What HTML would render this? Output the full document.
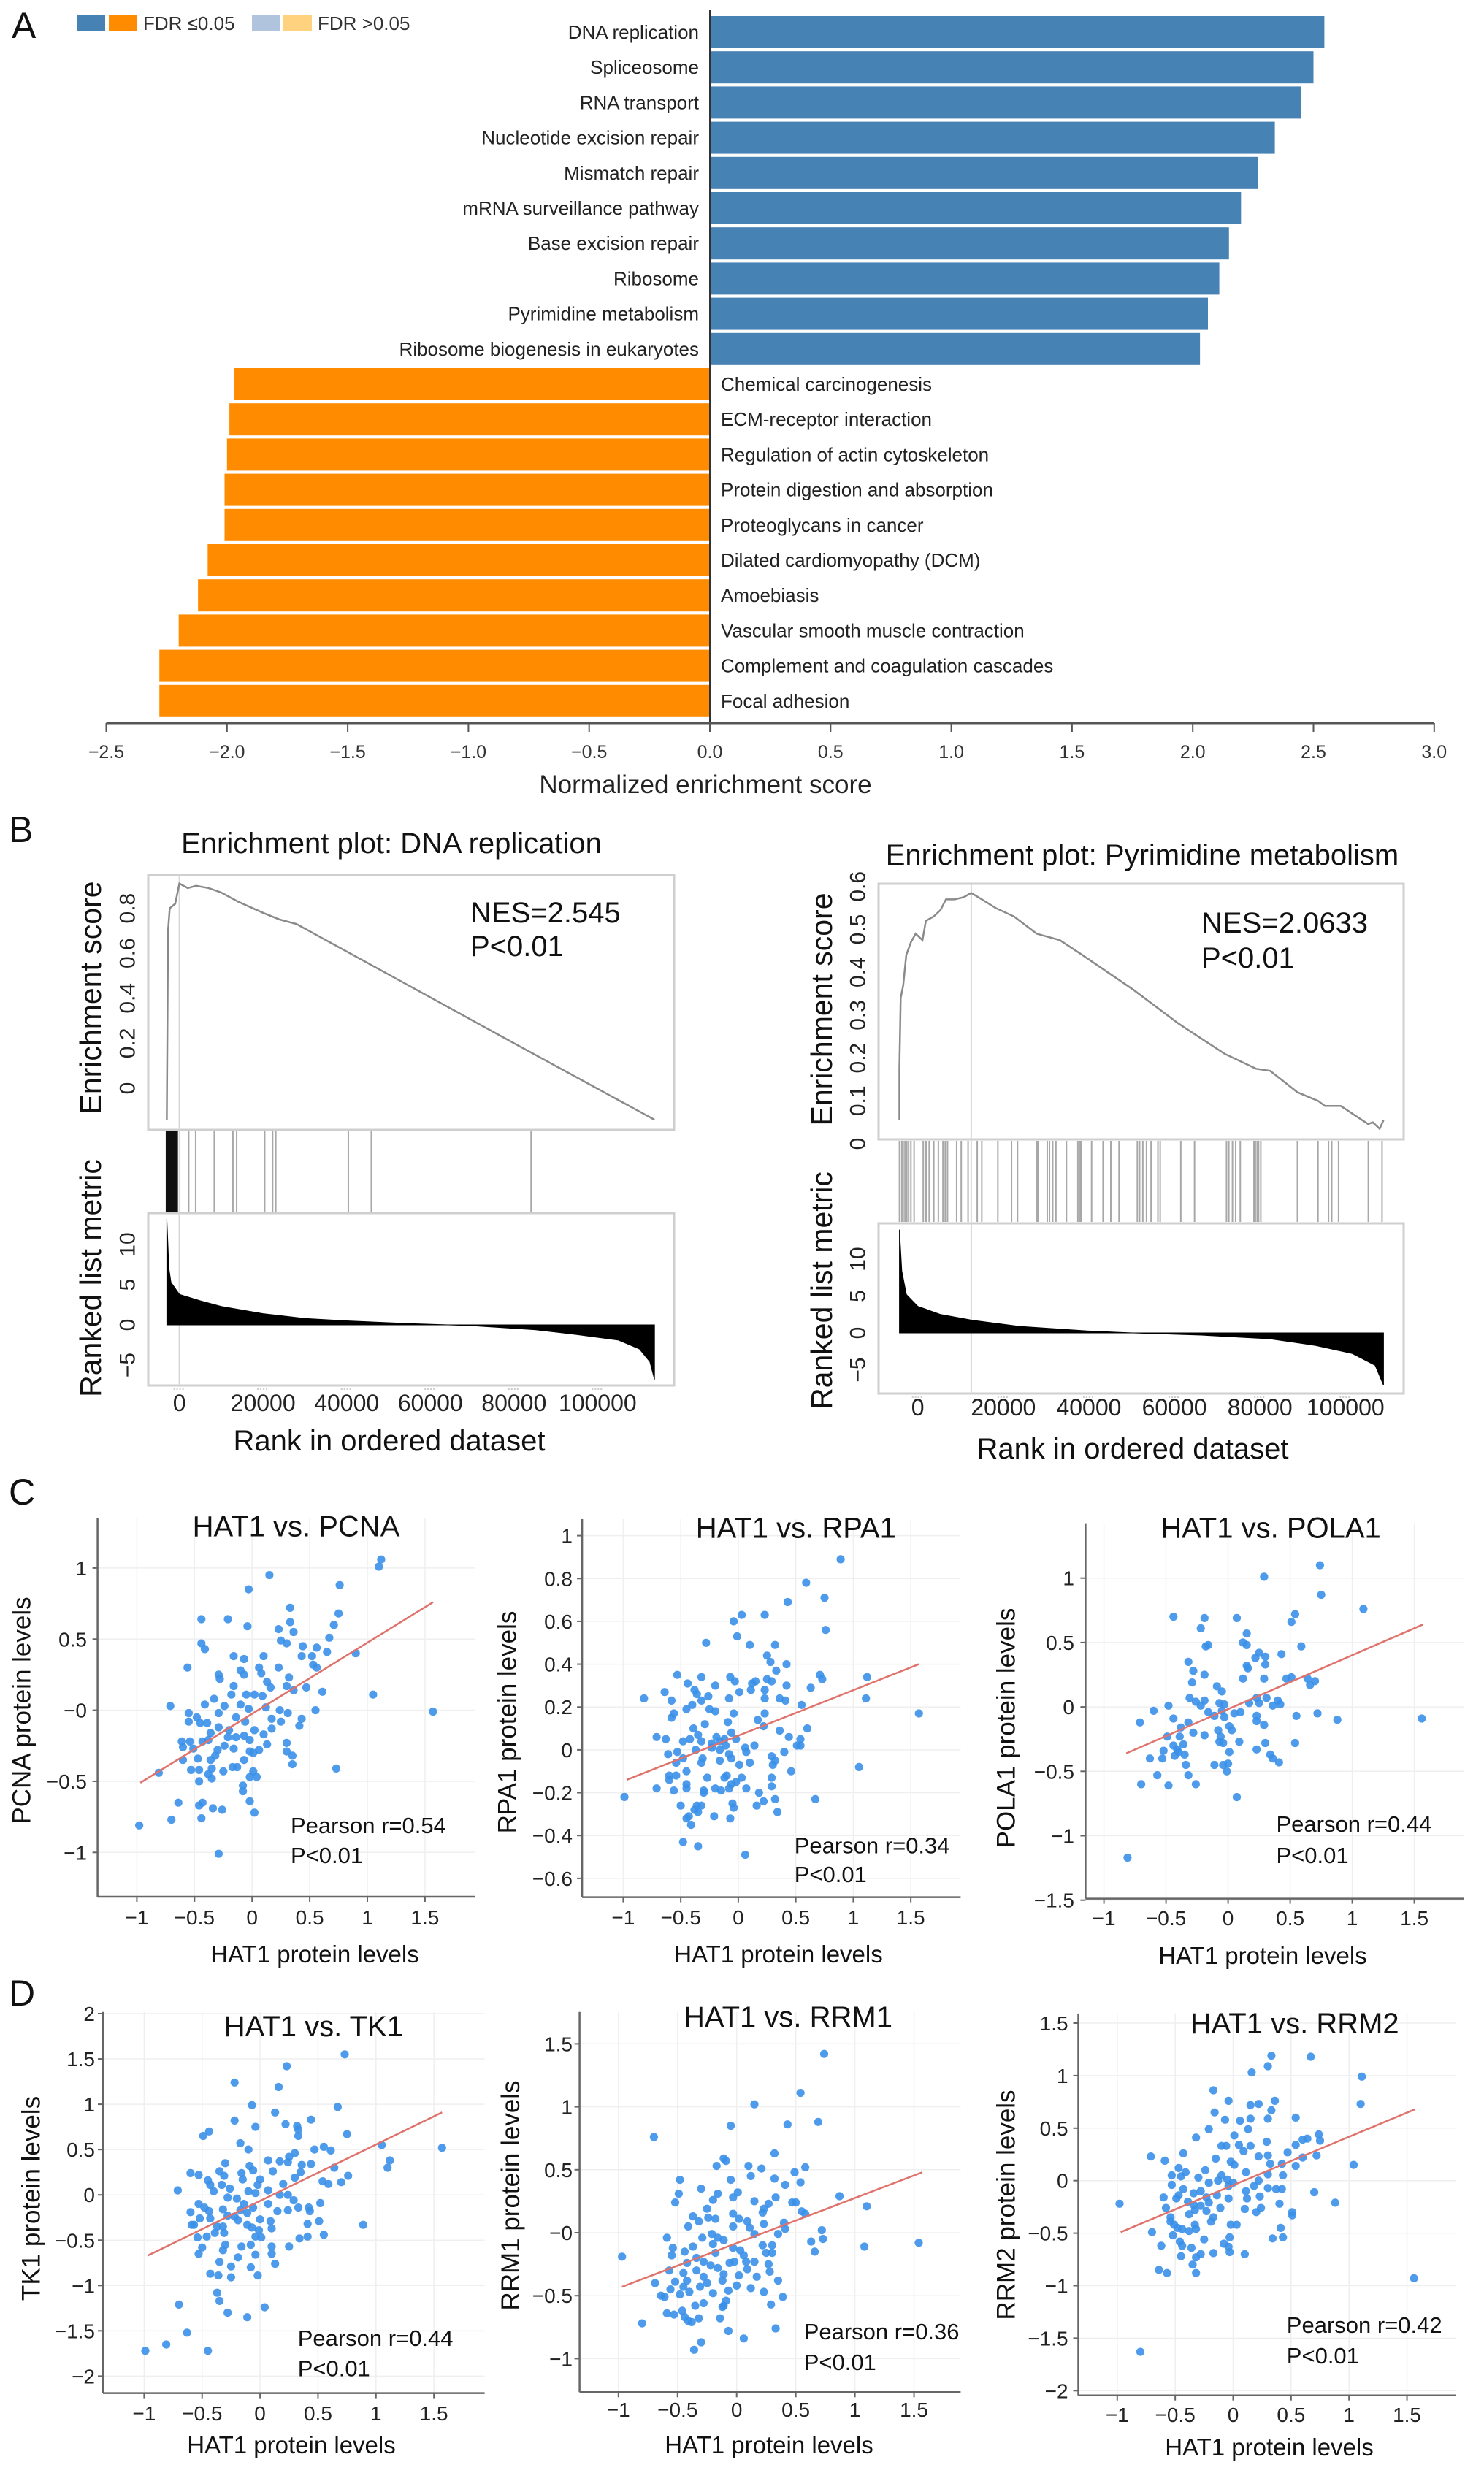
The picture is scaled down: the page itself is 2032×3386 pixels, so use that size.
<!DOCTYPE html>
<html><head><meta charset="utf-8"><title>GSEA and HAT1 correlation figure</title>
<style>
html,body{margin:0;padding:0;background:#fff;}
svg{display:block;font-family:"Liberation Sans",Arial,sans-serif;}
</style></head>
<body>
<svg id="fig" xmlns="http://www.w3.org/2000/svg" width="2032" height="3386" viewBox="0 0 2032 3386"></svg>
<script>
// ---------- Panel A data ----------
const barCategories=["DNA replication","Spliceosome","RNA transport","Nucleotide excision repair","Mismatch repair","mRNA surveillance pathway","Base excision repair","Ribosome","Pyrimidine metabolism","Ribosome biogenesis in eukaryotes","Chemical carcinogenesis","ECM-receptor interaction","Regulation of actin cytoskeleton","Protein digestion and absorption","Proteoglycans in cancer","Dilated cardiomyopathy (DCM)","Amoebiasis","Vascular smooth muscle contraction","Complement and coagulation cascades","Focal adhesion"];
const barValues=[2.545,2.50,2.45,2.34,2.27,2.20,2.15,2.11,2.063,2.03,-1.97,-1.99,-2.00,-2.01,-2.01,-2.08,-2.12,-2.20,-2.28,-2.28];
const nesTicks=[-2.5,-2.0,-1.5,-1.0,-0.5,0.0,0.5,1.0,1.5,2.0,2.5,3.0];
const nesTickLabels=["\u22122.5","\u22122.0","\u22121.5","\u22121.0","\u22120.5","0.0","0.5","1.0","1.5","2.0","2.5","3.0"];

// ---------- Panel B data ----------
const rankTicks=[0,20000,40000,60000,80000,100000];
const esRankL=[-3000,-2700,-2300,-1000,0,2000,4000,7000,10000,14000,20000,24000,28000,50000,80000,113600];
const esValL=[-0.14,0.70,0.80,0.82,0.91,0.89,0.90,0.89,0.87,0.83,0.78,0.75,0.73,0.506,0.20,-0.14];
const hitRanksL=[-3000,-2800,-2600,-2400,-2200,-2000,-1800,-1600,-1400,-1200,-1000,-800,-600,2230,3900,8350,12800,13700,20400,22300,23050,40400,45900,84100];
const metricRankL=[-3000,-2500,-2000,0,5000,10000,20000,30000,40000,55000,70000,85000,95000,105000,110000,112500,113600];
const metricValL=[13.2,7,5.3,3.8,3.0,2.3,1.4,0.8,0.5,0.15,-0.1,-0.6,-1.2,-1.9,-3.0,-4.6,-6.8];
const esTicksL=[0,0.2,0.4,0.6,0.8];
const esRankR=[-4300,-4300,-4000,-3400,-2700,-1600,-500,1100,1900,3700,5300,6600,8600,10700,12500,15000,18200,22500,27800,33200,38500,50300,61000,71700,79100,82400,88800,93600,95200,98900,105300,106400,108000,108900];
const esValR=[0.055,0.175,0.34,0.37,0.44,0.47,0.49,0.475,0.52,0.53,0.545,0.57,0.57,0.575,0.585,0.57,0.55,0.53,0.49,0.475,0.44,0.36,0.28,0.21,0.175,0.17,0.12,0.10,0.088,0.088,0.046,0.05,0.035,0.055];
const hitRanksR=[-4280,-3740,-3420,-2990,-2570,-2140,-1600,-860,1280,1930,2670,3740,4810,5880,6420,6950,9090,10160,11760,13900,14970,18720,21920,23320,27810,28130,30270,30800,31550,32300,34760,37430,37970,38290,40640,43320,45130,47060,51340,51870,52620,53480,54550,56150,56680,61500,64710,72190,72730,73580,74330,75400,78610,78930,79360,79680,80210,88770,93580,96040,96790,98390,105350,108560];
const metricRankR=[-4280,-3740,-2670,0,5350,12830,23530,39570,50270,66310,82350,93050,101600,106950,108900];
const metricValR=[14.0,8.4,5.2,3.6,2.5,1.7,0.9,0.27,0,-0.3,-0.8,-1.7,-2.8,-4.4,-7.1];
const esTicksR=[0,0.1,0.2,0.3,0.4,0.5,0.6];
const metricTicks=[-5,0,5,10];

// ---------- Panel C / D data (HAT1 x, target y) ----------
const hatTicks=[-1,-0.5,0,0.5,1,1.5];
const hatTickLabels=["\u22121","\u22120.5","0","0.5","1","1.5"];
const pcnaPoints=[[1.12,1.06],[1.10,1.01],[0.15,0.95],[0.76,0.88],[-0.03,0.85],[0.33,0.72],[0.75,0.68],[-0.44,0.64],[-0.21,0.64],[0.33,0.62],[-0.04,0.59],[0.71,0.60],[0.23,0.57],[0.36,0.55],[0.67,0.51],[0.25,0.49],[0.30,0.47],[-0.44,0.47],[-0.41,0.43],[0.44,0.45],[0.56,0.44],[0.65,0.41],[0.90,0.40],[-0.16,0.38],[0.10,0.38],[0.43,0.38],[0.52,0.38],[-0.07,0.36],[0.53,0.32],[-0.56,0.30],[0.06,0.30],[0.23,0.30],[-0.10,0.28],[0.56,0.30],[0.08,0.26],[-0.29,0.25],[-0.07,0.25],[0.32,0.23],[-0.28,0.22],[0.13,0.20],[-0.16,0.17],[0.16,0.16],[0.30,0.17],[0.47,0.16],[0.36,0.14],[0.61,0.13],[1.05,0.11],[-0.05,0.11],[0.02,0.11],[-0.18,0.11],[0.09,0.10],[-0.33,0.08],[-0.41,0.04],[-0.71,0.03],[-0.24,0.03],[-0.10,0.04],[0.12,0.02],[-0.03,0.01],[0.24,0.0],[0.55,0.0],[1.57,-0.01],[-0.55,-0.02],[-0.29,-0.02],[0.31,-0.02],[-0.48,-0.05],[-0.14,-0.05],[0.17,-0.06],[0.43,-0.06],[-0.55,-0.08],[-0.45,-0.09],[-0.39,-0.09],[-0.06,-0.08],[0.25,-0.08],[0.41,-0.11],[-0.29,-0.12],[-0.20,-0.14],[0.17,-0.13],[0.02,-0.14],[-0.36,-0.16],[-0.07,-0.18],[0.10,-0.17],[-0.21,-0.19],[-0.14,-0.19],[-0.61,-0.22],[-0.54,-0.22],[-0.43,-0.22],[-0.38,-0.21],[-0.02,-0.21],[0.30,-0.23],[0.13,-0.24],[-0.60,-0.26],[-0.51,-0.27],[-0.24,-0.25],[-0.16,-0.27],[0.06,-0.28],[-0.30,-0.28],[0.30,-0.29],[-0.02,-0.29],[-0.47,-0.34],[0.01,-0.30],[-0.32,-0.32],[0.35,-0.32],[-0.60,-0.35],[-0.36,-0.35],[-0.07,-0.35],[0.35,-0.38],[-0.53,-0.42],[-0.46,-0.42],[-0.35,-0.41],[-0.25,-0.43],[-0.17,-0.40],[-0.13,-0.40],[0.73,-0.41],[-0.81,-0.44],[0.01,-0.43],[-0.38,-0.45],[-0.02,-0.47],[0.04,-0.47],[-0.46,-0.50],[-0.35,-0.48],[-0.08,-0.53],[-0.08,-0.57],[-0.64,-0.65],[-0.43,-0.65],[-0.02,-0.64],[-0.46,-0.67],[-0.34,-0.69],[-0.26,-0.70],[0.02,-0.72],[-0.70,-0.77],[-0.44,-0.76],[-0.98,-0.81],[-0.29,-1.01]];
const rpa1Points=[[0.89,0.89],[0.59,0.78],[0.75,0.71],[0.43,0.69],[0.76,0.56],[0.23,0.63],[0.03,0.63],[-0.04,0.60],[-0.01,0.53],[-0.28,0.50],[0.10,0.49],[0.32,0.49],[0.25,0.44],[0.28,0.41],[0.42,0.40],[0.33,0.37],[-0.53,0.35],[-0.32,0.34],[-0.07,0.34],[-0.03,0.32],[0.15,0.32],[0.25,0.33],[1.12,0.34],[0.71,0.35],[0.73,0.33],[0.29,0.32],[-0.44,0.31],[-0.20,0.30],[0.42,0.30],[0.12,0.31],[0.63,0.29],[0.23,0.28],[-0.38,0.28],[-0.64,0.27],[0.01,0.27],[0.11,0.28],[-0.36,0.26],[-0.26,0.25],[-0.82,0.24],[-0.08,0.24],[1.11,0.24],[0.23,0.24],[0.36,0.24],[0.41,0.23],[-0.58,0.23],[-0.32,0.23],[0.55,0.21],[-0.40,0.21],[-0.45,0.19],[-0.25,0.19],[-0.20,0.18],[-0.56,0.17],[1.57,0.17],[-0.04,0.17],[0.23,0.17],[-0.58,0.15],[0.17,0.14],[-0.09,0.13],[-0.29,0.12],[0.22,0.11],[-0.39,0.10],[0.60,0.10],[0.36,0.09],[-0.06,0.08],[-0.35,0.07],[-0.71,0.06],[-0.42,0.05],[-0.19,0.06],[0.44,0.06],[-0.63,0.05],[0.54,0.05],[-0.48,0.04],[-0.32,0.04],[-0.12,0.05],[-0.02,0.05],[-0.23,0.03],[-0.16,0.04],[0.54,0.02],[-0.11,0.02],[0.14,0.02],[0.06,0.01],[0.51,0.02],[-0.23,0.01],[-0.16,0.0],[-0.53,-0.01],[-0.37,0.0],[0.07,-0.01],[-0.61,-0.02],[0.40,-0.01],[-0.08,-0.02],[-0.31,-0.04],[-0.48,-0.04],[-0.16,-0.05],[-0.06,-0.04],[0.29,-0.03],[0.32,-0.05],[-0.54,-0.06],[-0.32,-0.06],[0.01,-0.07],[0.10,-0.06],[0.30,-0.07],[1.05,-0.08],[-0.45,-0.10],[0.46,-0.10],[-0.10,-0.12],[-0.60,-0.12],[-0.54,-0.12],[0.29,-0.13],[0.03,-0.13],[-0.27,-0.13],[-0.60,-0.14],[-0.12,-0.13],[-0.45,-0.16],[-0.02,-0.15],[-0.06,-0.16],[0.29,-0.17],[-0.45,-0.18],[-0.71,-0.18],[-0.20,-0.18],[-0.15,-0.19],[0.07,-0.18],[-0.30,-0.19],[-0.08,-0.18],[-0.56,-0.19],[-0.30,-0.20],[0.18,-0.20],[0.22,-0.24],[0.32,-0.23],[0.67,-0.23],[-0.99,-0.22],[0.16,-0.26],[-0.50,-0.26],[-0.05,-0.25],[-0.04,-0.27],[-0.36,-0.26],[-0.32,-0.26],[-0.38,-0.28],[-0.35,-0.29],[0.34,-0.29],[-0.43,-0.31],[-0.21,-0.31],[-0.07,-0.32],[-0.45,-0.32],[-0.41,-0.35],[-0.48,-0.43],[-0.35,-0.45],[0.06,-0.49]];
const pola1Points=[[0.74,1.10],[0.29,1.01],[0.75,0.87],[1.09,0.76],[-0.44,0.70],[-0.19,0.69],[0.07,0.69],[0.54,0.72],[0.51,0.66],[-0.22,0.61],[0.15,0.57],[0.59,0.47],[0.12,0.50],[0.15,0.48],[-0.16,0.48],[-0.18,0.47],[0.25,0.42],[0.43,0.41],[0.30,0.39],[0.22,0.38],[-0.32,0.35],[0.15,0.32],[0.30,0.33],[0.16,0.30],[-0.28,0.28],[-0.19,0.25],[0.51,0.23],[0.47,0.22],[0.12,0.22],[0.29,0.22],[0.64,0.22],[0.70,0.20],[0.66,0.17],[-0.29,0.19],[-0.09,0.16],[-0.05,0.12],[-0.31,0.07],[-0.19,0.05],[0.23,0.07],[0.31,0.07],[0.40,0.05],[-0.26,0.04],[0.17,0.03],[0.25,0.03],[0.42,0.02],[-0.07,0.03],[-0.03,0.02],[-0.48,0.01],[0.36,0.01],[-0.22,0.01],[-0.60,-0.03],[-0.16,-0.04],[-0.05,-0.03],[0.10,-0.04],[0.05,-0.05],[0.72,-0.05],[0.55,-0.07],[-0.44,-0.09],[0.23,-0.07],[-0.03,-0.08],[-0.11,-0.07],[0.88,-0.10],[1.56,-0.09],[-0.71,-0.12],[-0.32,-0.12],[0.23,-0.11],[0.29,-0.14],[-0.38,-0.16],[0.01,-0.15],[-0.08,-0.18],[0.03,-0.18],[-0.28,-0.20],[-0.19,-0.22],[-0.49,-0.23],[-0.39,-0.23],[-0.06,-0.23],[-0.07,-0.27],[-0.04,-0.28],[0.09,-0.27],[0.30,-0.28],[0.54,-0.28],[-0.36,-0.29],[-0.44,-0.30],[-0.41,-0.33],[-0.52,-0.34],[0.23,-0.33],[0.01,-0.35],[-0.40,-0.35],[-0.43,-0.38],[-0.35,-0.37],[0.34,-0.37],[0.36,-0.40],[-0.63,-0.40],[-0.53,-0.40],[0.41,-0.43],[-0.34,-0.45],[-0.11,-0.45],[-0.04,-0.45],[0.00,-0.44],[-0.01,-0.50],[-0.57,-0.53],[-0.32,-0.53],[-0.70,-0.60],[-0.26,-0.60],[-0.48,-0.61],[0.07,-0.70],[-0.81,-1.17]];
const tk1Points=[[0.73,1.55],[0.23,1.42],[-0.22,1.24],[0.16,1.19],[-0.07,0.99],[0.67,0.97],[0.13,0.91],[0.44,0.83],[-0.22,0.82],[0.22,0.78],[0.32,0.76],[-0.04,0.75],[0.33,0.72],[-0.44,0.70],[-0.49,0.65],[0.75,0.67],[0.33,0.65],[-0.17,0.57],[-0.10,0.50],[0.47,0.50],[0.55,0.53],[1.05,0.55],[1.57,0.52],[0.61,0.49],[0.30,0.46],[0.25,0.42],[1.12,0.38],[0.07,0.38],[0.17,0.37],[0.24,0.36],[-0.30,0.35],[0.36,0.33],[0.44,0.34],[-0.09,0.32],[1.10,0.30],[0.64,0.30],[0.11,0.26],[-0.06,0.27],[-0.35,0.26],[0.35,0.25],[-0.60,0.24],[-0.53,0.22],[-0.16,0.24],[-0.31,0.21],[0.30,0.19],[0.76,0.21],[-0.15,0.17],[-0.45,0.16],[0.0,0.17],[0.70,0.14],[0.54,0.15],[-0.43,0.11],[0.59,0.12],[0.20,0.12],[-0.33,0.11],[-0.02,0.11],[-0.26,0.07],[-0.71,0.05],[-0.40,0.04],[-0.10,0.04],[-0.04,0.02],[0.07,0.05],[0.17,0.0],[0.24,0.0],[-0.28,-0.03],[-0.20,-0.04],[0.29,-0.06],[0.52,-0.09],[-0.53,-0.10],[-0.14,-0.10],[0.07,-0.10],[-0.48,-0.14],[0.33,-0.14],[0.42,-0.14],[-0.06,-0.14],[-0.44,-0.18],[-0.32,-0.16],[-0.17,-0.17],[0.15,-0.18],[0.24,-0.17],[0.43,-0.18],[-0.60,-0.19],[-0.11,-0.20],[-0.52,-0.26],[-0.43,-0.26],[-0.22,-0.24],[-0.28,-0.23],[-0.19,-0.28],[0.0,-0.27],[0.09,-0.29],[-0.59,-0.33],[-0.57,-0.33],[0.89,-0.33],[-0.11,-0.33],[-0.37,-0.35],[-0.32,-0.35],[0.41,-0.32],[0.51,-0.29],[-0.07,-0.36],[0.10,-0.37],[-0.01,-0.39],[-0.39,-0.42],[-0.31,-0.42],[0.55,-0.44],[-0.54,-0.47],[-0.46,-0.46],[-0.04,-0.46],[0.01,-0.47],[0.41,-0.46],[0.34,-0.48],[-0.16,-0.57],[0.25,-0.57],[0.10,-0.57],[-0.30,-0.55],[-0.50,-0.58],[-0.32,-0.61],[-0.08,-0.55],[-0.53,-0.65],[0.10,-0.65],[-0.04,-0.66],[-0.19,-0.69],[0.13,-0.76],[-0.35,-0.74],[-0.25,-0.79],[-0.08,-0.80],[-0.43,-0.87],[-0.36,-0.89],[-0.25,-0.91],[-0.02,-0.89],[-0.37,-1.08],[-0.35,-1.17],[0.04,-1.24],[-0.70,-1.21],[-0.28,-1.30],[-0.11,-1.35],[-0.63,-1.52],[-0.81,-1.65],[-0.99,-1.72],[-0.45,-1.72]];
const rrm1Points=[[0.74,1.42],[0.54,1.11],[0.15,1.02],[0.69,0.88],[-0.05,0.85],[0.43,0.86],[-0.70,0.76],[0.32,0.63],[-0.11,0.59],[-0.09,0.57],[-0.17,0.53],[0.10,0.53],[0.21,0.51],[0.58,0.52],[0.49,0.48],[-0.48,0.42],[-0.05,0.42],[0.32,0.43],[0.12,0.45],[0.54,0.40],[-0.30,0.35],[0.41,0.38],[-0.49,0.31],[-0.16,0.31],[0.01,0.32],[-0.03,0.28],[-0.20,0.26],[0.33,0.28],[0.87,0.29],[-0.52,0.24],[0.15,0.25],[0.47,0.24],[0.50,0.24],[0.27,0.23],[1.10,0.21],[0.23,0.19],[-0.25,0.19],[0.55,0.17],[0.58,0.15],[0.22,0.16],[-0.03,0.15],[-0.37,0.13],[-0.18,0.11],[-0.24,0.12],[0.02,0.11],[0.09,0.09],[0.40,0.08],[-0.32,0.09],[0.23,0.07],[-0.41,0.05],[-0.03,0.05],[0.11,0.04],[0.41,0.03],[0.72,0.02],[0.35,-0.01],[-0.21,-0.01],[0.15,-0.01],[-0.59,-0.04],[-0.16,-0.04],[0.73,-0.05],[-0.29,-0.04],[-0.11,-0.06],[-0.37,-0.11],[-0.54,-0.12],[0.22,-0.10],[0.30,-0.10],[0.63,-0.07],[1.08,-0.11],[1.54,-0.08],[-0.20,-0.09],[-0.03,-0.12],[0.03,-0.14],[0.25,-0.16],[0.30,-0.16],[0.66,-0.15],[-0.97,-0.19],[-0.55,-0.18],[-0.44,-0.15],[0.06,-0.18],[-0.18,-0.16],[-0.34,-0.20],[-0.28,-0.23],[-0.06,-0.24],[-0.02,-0.23],[0.08,-0.23],[0.15,-0.23],[-0.42,-0.24],[0.27,-0.25],[-0.22,-0.26],[-0.16,-0.28],[0.09,-0.29],[0.28,-0.31],[-0.57,-0.30],[-0.34,-0.30],[-0.45,-0.32],[-0.11,-0.33],[0.02,-0.34],[0.17,-0.35],[-0.28,-0.35],[-0.42,-0.38],[-0.12,-0.38],[0.35,-0.38],[-0.52,-0.39],[-0.69,-0.40],[-0.25,-0.40],[0.0,-0.42],[-0.45,-0.43],[-0.31,-0.43],[0.12,-0.44],[-0.56,-0.45],[-0.07,-0.46],[-0.40,-0.47],[0.23,-0.47],[-0.20,-0.48],[-0.48,-0.49],[0.39,-0.51],[-0.64,-0.50],[-0.61,-0.51],[-0.09,-0.54],[0.29,-0.57],[-0.35,-0.58],[-0.28,-0.56],[-0.12,-0.59],[-0.11,-0.58],[-0.59,-0.64],[-0.53,-0.65],[-0.46,-0.62],[-0.44,-0.67],[-0.41,-0.70],[-0.32,-0.68],[-0.38,-0.71],[-0.14,-0.68],[-0.80,-0.72],[0.33,-0.76],[-0.07,-0.78],[0.06,-0.84],[-0.30,-0.87],[-0.36,-0.93]];
const rrm2Points=[[0.33,1.19],[0.67,1.18],[0.30,1.09],[0.16,1.03],[1.11,0.99],[-0.17,0.86],[-0.04,0.76],[0.36,0.76],[0.15,0.72],[0.22,0.73],[1.10,0.73],[0.33,0.67],[-0.16,0.65],[0.30,0.59],[-0.07,0.58],[0.15,0.59],[0.54,0.60],[0.06,0.57],[-0.21,0.49],[0.13,0.49],[-0.32,0.41],[0.01,0.43],[0.74,0.44],[0.29,0.37],[0.05,0.34],[0.15,0.33],[-0.10,0.33],[-0.06,0.33],[0.75,0.38],[0.54,0.34],[0.60,0.39],[0.64,0.40],[0.09,0.28],[0.47,0.27],[-0.43,0.26],[-0.71,0.23],[0.30,0.24],[0.72,0.24],[0.22,0.23],[-0.59,0.19],[-0.15,0.21],[-0.02,0.18],[0.60,0.22],[0.32,0.16],[0.42,0.16],[0.01,0.15],[1.04,0.15],[0.54,0.14],[-0.47,0.12],[-0.24,0.10],[-0.41,0.08],[0.11,0.08],[-0.10,0.05],[-0.53,0.05],[0.30,0.06],[-0.30,0.03],[0.43,0.05],[-0.45,0.04],[-0.05,0.01],[-0.13,0.0],[0.22,0.0],[0.0,-0.02],[-0.53,-0.04],[-0.21,-0.02],[-0.04,-0.05],[0.18,-0.05],[-0.43,-0.08],[0.30,-0.07],[0.37,-0.08],[0.42,-0.08],[-0.28,-0.10],[0.70,-0.11],[0.11,-0.10],[-0.34,-0.12],[-0.47,-0.14],[-0.14,-0.14],[0.23,-0.15],[-0.60,-0.16],[-0.49,-0.17],[-0.04,-0.17],[0.12,-0.17],[-0.23,-0.16],[-0.39,-0.20],[-0.21,-0.21],[-0.98,-0.22],[0.40,-0.22],[0.88,-0.21],[-0.34,-0.23],[-0.28,-0.24],[-0.58,-0.26],[-0.11,-0.26],[0.24,-0.26],[0.10,-0.27],[-0.33,-0.28],[-0.23,-0.29],[0.20,-0.30],[0.51,-0.30],[-0.38,-0.32],[-0.17,-0.35],[0.51,-0.33],[-0.54,-0.35],[-0.54,-0.39],[-0.19,-0.39],[-0.51,-0.42],[-0.33,-0.42],[-0.02,-0.42],[0.03,-0.42],[0.41,-0.45],[-0.48,-0.45],[-0.44,-0.46],[-0.38,-0.48],[-0.32,-0.46],[-0.70,-0.49],[-0.52,-0.52],[-0.03,-0.54],[0.43,-0.54],[-0.25,-0.56],[0.34,-0.55],[-0.46,-0.58],[-0.08,-0.60],[-0.44,-0.62],[-0.62,-0.62],[-0.36,-0.64],[-0.04,-0.63],[-0.03,-0.68],[-0.17,-0.69],[0.10,-0.70],[-0.45,-0.72],[-0.28,-0.70],[-0.32,-0.73],[-0.35,-0.80],[-0.64,-0.85],[-0.57,-0.88],[-0.32,-0.88],[1.56,-0.93],[-0.80,-1.63]];
const pcnaFit=[[-0.97,-0.51],[1.57,0.76]];
const rpa1Fit=[[-0.97,-0.14],[1.57,0.40]];
const pola1Fit=[[-0.82,-0.36],[1.57,0.64]];
const tk1Fit=[[-0.97,-0.67],[1.57,0.91]];
const rrm1Fit=[[-0.97,-0.43],[1.57,0.48]];
const rrm2Fit=[[-0.97,-0.49],[1.57,0.68]];
const pcnaYTicks=[-1,-0.5,0,0.5,1];
const pcnaYLabels=["\u22121","\u22120.5","\u22120","0.5","1"];
const rpa1YTicks=[-0.6,-0.4,-0.2,0,0.2,0.4,0.6,0.8,1];
const rpa1YLabels=["\u22120.6","\u22120.4","\u22120.2","0","0.2","0.4","0.6","0.8","1"];
const pola1YTicks=[-1.5,-1,-0.5,0,0.5,1];
const pola1YLabels=["\u22121.5","\u22121","\u22120.5","0","0.5","1"];
const tk1YTicks=[-2,-1.5,-1,-0.5,0,0.5,1,1.5,2];
const tk1YLabels=["\u22122","\u22121.5","\u22121","\u22120.5","0","0.5","1","1.5","2"];
const rrm1YTicks=[-1,-0.5,0,0.5,1,1.5];
const rrm1YLabels=["\u22121","\u22120.5","\u22120","0.5","1","1.5"];
const rrm2YTicks=[-2,-1.5,-1,-0.5,0,0.5,1,1.5];
const rrm2YLabels=["\u22122","\u22121.5","\u22121","\u22120.5","0","0.5","1","1.5"];

// ---------- helpers ----------
const NS='http://www.w3.org/2000/svg';
const svg=document.getElementById('fig');
function mk(tag,attrs,parent){const e=document.createElementNS(NS,tag);for(const k in attrs)e.setAttribute(k,attrs[k]);(parent||svg).appendChild(e);return e;}
function txt(s,attrs,parent){const e=mk('text',attrs,parent);e.textContent=s;return e;}

// ---------- Panel A ----------
(function(){
  const g=mk('g',{});
  
  
  const x0=972,ux=330.6,top=22,pitch=48.2,bh=44;
  const xA=v=>x0+v*ux;
  let t=txt('A',{x:16,y:52,'font-size':50,fill:'#111'},g);
  
  
  const lg=mk('g',{},g);
  
  
  const sw=[[105,'#4682b4'],[149,'#ff8c00'],[345,'#b0c4de'],[388,'#ffd27f']];
  sw.forEach(s=>{const r=mk('rect',{x:s[0],y:20,width:39,height:22,fill:s[1]},lg);
    
    });
  t=txt('FDR \u22640.05',{x:196,y:41,'font-size':26,fill:'#333'},lg);
  
  
  t=txt('FDR >0.05',{x:435,y:41,'font-size':26,fill:'#333'},lg);
  
  
  barValues.forEach((v,i)=>{
    const y=top+i*pitch;
    const r=mk('rect',{x:Math.min(xA(0),xA(v)),y:y,width:Math.abs(xA(v)-xA(0)),height:bh,fill:v>=0?'#4682b4':'#ff8c00'},g);
    
    
    const l=txt(barCategories[i],{x:v>=0?957:987,y:y+bh/2+9,'font-size':26,fill:'#222','text-anchor':v>=0?'end':'start'},g);
    
    
  });
  const axisY=990;
  let ln=mk('line',{x1:xA(0),y1:14,x2:xA(0),y2:axisY,stroke:'#333','stroke-width':2},g);
  
  
  ln=mk('line',{x1:xA(-2.5),y1:axisY,x2:xA(3),y2:axisY,stroke:'#555','stroke-width':3},g);
  
  
  nesTicks.forEach((v,i)=>{
    const tk=mk('line',{x1:xA(v),y1:axisY,x2:xA(v),y2:axisY+12,stroke:'#555','stroke-width':2},g);
    
    
    const tl=txt(nesTickLabels[i],{x:xA(v),y:1038,'font-size':25,fill:'#333','text-anchor':'middle'},g);
    
    
  });
  t=txt('Normalized enrichment score',{x:966,y:1086,'font-size':35,fill:'#222','text-anchor':'middle'},g);
  
  
})();

// ---------- Panel B ----------
function drawGsea(cfg,esR,esV,hits,mR,mV,esTicks){
  const g=mk('g',{});
  
  
  const xR=r=>cfg.rx0+r*cfg.rUnit;
  const yE=v=>cfg.ey0-v*cfg.eUnit;
  const yM=v=>cfg.my0-v*cfg.mUnit;
  let t=txt(cfg.title,{x:cfg.titleX,y:cfg.titleY+14,'font-size':40,fill:'#111','text-anchor':'middle'},g);
  
  
  let r=mk('rect',{x:cfg.L,y:cfg.eT,width:cfg.R-cfg.L,height:cfg.eB-cfg.eT,fill:'none',stroke:'#cfcfcf','stroke-width':3},g);
  
  
  r=mk('rect',{x:cfg.L,y:cfg.mT,width:cfg.R-cfg.L,height:cfg.mB-cfg.mT,fill:'none',stroke:'#cfcfcf','stroke-width':3},g);
  
  
  let ln=mk('line',{x1:xR(cfg.peak),y1:cfg.eT,x2:xR(cfg.peak),y2:cfg.mB,stroke:'#d8d8d8','stroke-width':2},g);
  
  
  let d=esR.map((rk,i)=>(i?'L':'M')+xR(rk).toFixed(1)+','+yE(esV[i]).toFixed(1)).join(' ');
  let p=mk('path',{d:d,fill:'none',stroke:'#8a8a8a','stroke-width':2.5},g);
  
  
  hits.forEach(rk=>{
    const h=mk('line',{x1:xR(rk),y1:cfg.eB+2,x2:xR(rk),y2:cfg.mT-2,stroke:rk<cfg.darkBelow?'#111':'#a8a8a8','stroke-width':rk<cfg.darkBelow?3:2},g);
    
    
  });
  d='M'+xR(mR[0]).toFixed(1)+','+yM(0).toFixed(1)+' '+mR.map((rk,i)=>'L'+xR(rk).toFixed(1)+','+yM(mV[i]).toFixed(1)).join(' ')+' L'+xR(mR[mR.length-1]).toFixed(1)+','+yM(0).toFixed(1)+' Z';
  p=mk('path',{d:d,fill:'#000',stroke:'#000','stroke-width':1},g);
  
  
  esTicks.forEach(v=>{
    const tl=txt(String(v),{x:cfg.tickX,y:yE(v),'font-size':30,fill:'#222','text-anchor':'middle','dominant-baseline':'central',transform:'rotate(-90 '+cfg.tickX+' '+yE(v)+')'},g);
    
    
  });
  metricTicks.forEach(v=>{
    const tl=txt(v<0?'\u2212'+Math.abs(v):String(v),{x:cfg.tickX,y:yM(v),'font-size':30,fill:'#222','text-anchor':'middle','dominant-baseline':'central',transform:'rotate(-90 '+cfg.tickX+' '+yM(v)+')'},g);
    
    
  });
  rankTicks.forEach(v=>{
    const tl=txt(String(v),{x:xR(v),y:cfg.xLabY+11,'font-size':32,fill:'#222','text-anchor':'middle'},g);
    
    
    const tk=mk('line',{x1:xR(v)-8,y1:cfg.mB+5,x2:xR(v)+8,y2:cfg.mB+5,stroke:'#ccc','stroke-width':2,'stroke-dasharray':'2 2'},g);
    
    
  });
  t=txt('Enrichment score',{x:cfg.yTitleX,y:cfg.esTitleY,'font-size':41,fill:'#111','text-anchor':'middle','dominant-baseline':'central',transform:'rotate(-90 '+cfg.yTitleX+' '+cfg.esTitleY+')'},g);
  
  
  t=txt('Ranked list metric',{x:cfg.yTitleX,y:cfg.mTitleY,'font-size':41,fill:'#111','text-anchor':'middle','dominant-baseline':'central',transform:'rotate(-90 '+cfg.yTitleX+' '+cfg.mTitleY+')'},g);
  
  
  t=txt('Rank in ordered dataset',{x:cfg.xTitleX,y:cfg.xTitleY+13,'font-size':40,fill:'#111','text-anchor':'middle'},g);
  
  
  t=txt(cfg.nes,{x:cfg.nesX,y:cfg.nesY+14,'font-size':40,fill:'#111'},g);
  
  
  t=txt('P<0.01',{x:cfg.nesX,y:cfg.pY+14,'font-size':40,fill:'#111'},g);
  
  
}
let tB=txt('B',{x:12,y:1153,'font-size':50,fill:'#111'});


drawGsea({name:'gsea-dna-replication',title:'Enrichment plot: DNA replication',titleX:536,titleY:1154,L:203,R:923,eT:1198,eB:1547,mT:1661,mB:1897,
  rx0:245.6,rUnit:572.7/100000,ey0:1490,eUnit:308,my0:1814,mUnit:11.0,peak:0,darkBelow:0,tickX:175,xLabY:1921,
  yTitleX:124,esTitleY:1366,mTitleY:1750,xTitleX:533,xTitleY:1973,nes:'NES=2.545',nesX:644,nesY:1249,pY:1295},
  esRankL,esValL,hitRanksL,metricRankL,metricValL,esTicksL);
drawGsea({name:'gsea-pyrimidine-metabolism',title:'Enrichment plot: Pyrimidine metabolism',titleX:1564,titleY:1170,L:1203,R:1922,eT:1210,eB:1560,mT:1675,mB:1908,
  rx0:1256.7,rUnit:585.6/100000,ey0:1566,eUnit:587,my0:1825,mUnit:10.1,peak:12500,darkBelow:-99999,tickX:1175,xLabY:1927,
  yTitleX:1125,esTitleY:1382,mTitleY:1767,xTitleX:1551,xTitleY:1984,nes:'NES=2.0633',nesX:1645,nesY:1263,pY:1311},
  esRankR,esValR,hitRanksR,metricRankR,metricValR,esTicksR);

// ---------- Panels C / D ----------
function drawScatter(c,pts,fit,yTicks,yLabels){
  const g=mk('g',{});
  
  
  const X=v=>c.x0+v*c.ux, Y=v=>c.y0-v*c.uy;
  hatTicks.forEach(v=>{
    const gl=mk('line',{x1:X(v),y1:c.top,x2:X(v),y2:c.bottom,stroke:'#efefef','stroke-width':1.5},g);
    
    
  });
  yTicks.forEach(v=>{
    const gl=mk('line',{x1:c.left,y1:Y(v),x2:c.right,y2:Y(v),stroke:'#efefef','stroke-width':1.5},g);
    
    
  });
  let ln=mk('line',{x1:c.left,y1:c.top,x2:c.left,y2:c.bottom,stroke:'#666','stroke-width':2.5},g);
  
  
  ln=mk('line',{x1:c.left,y1:c.bottom,x2:c.right,y2:c.bottom,stroke:'#666','stroke-width':2.5},g);
  
  
  hatTicks.forEach((v,i)=>{
    const tk=mk('line',{x1:X(v),y1:c.bottom,x2:X(v),y2:c.bottom+7,stroke:'#666','stroke-width':2},g);
    
    
    const tl=txt(hatTickLabels[i],{x:X(v),y:c.xLabY+10,'font-size':28,fill:'#222','text-anchor':'middle'},g);
    
    
  });
  yTicks.forEach((v,i)=>{
    const tk=mk('line',{x1:c.left-7,y1:Y(v),x2:c.left,y2:Y(v),stroke:'#666','stroke-width':2},g);
    
    
    const tl=txt(yLabels[i],{x:c.yLabX,y:Y(v)+10,'font-size':28,fill:'#222','text-anchor':'end'},g);
    
    
  });
  pts.forEach(p=>{
    const d=mk('circle',{cx:X(p[0]).toFixed(1),cy:Y(p[1]).toFixed(1),r:5.6,fill:'#3a90e8','fill-opacity':0.9},g);
    
    
  });
  ln=mk('line',{x1:X(fit[0][0]),y1:Y(fit[0][1]),x2:X(fit[1][0]),y2:Y(fit[1][1]),stroke:'#e0726c','stroke-width':2.5},g);
  
  
  let t=txt(c.title,{x:c.titleX,y:c.titleY+14,'font-size':40,fill:'#111','text-anchor':'middle'},g);
  
  
  t=txt(c.yTitle,{x:c.yTitleX,y:c.yTitleY,'font-size':35,fill:'#111','text-anchor':'middle','dominant-baseline':'central',transform:'rotate(-90 '+c.yTitleX+' '+c.yTitleY+')'},g);
  
  
  t=txt('HAT1 protein levels',{x:c.xTitleX,y:c.xTitleY+12,'font-size':33,fill:'#111','text-anchor':'middle'},g);
  
  
  t=txt(c.r,{x:c.pearX,y:c.pearY+11,'font-size':31,fill:'#111'},g);
  
  
  t=txt('P<0.01',{x:c.pearX,y:c.pY+11,'font-size':31,fill:'#111'},g);
  
  
}
let tC=txt('C',{x:12,y:2060,'font-size':50,fill:'#111'});


let tD=txt('D',{x:12,y:2746,'font-size':50,fill:'#111'});


drawScatter({name:'scatter-hat1-pcna',left:133.6,right:650.5,top:2078,bottom:2597,x0:345.2,ux:157.8,y0:2341.6,uy:194.7,yLabX:119,xLabY:2625,yTitle:'PCNA protein levels',yTitleX:30,yTitleY:2342,xTitleX:431,xTitleY:2675,title:'HAT1 vs. PCNA',titleX:405.5,titleY:2089.5,r:'Pearson r=0.54',pearX:398,pearY:2499,pY:2540},pcnaPoints,pcnaFit,pcnaYTicks,pcnaYLabels);
drawScatter({name:'scatter-hat1-rpa1',left:797.1,right:1315.4,top:2080,bottom:2597.6,x0:1010.9,ux:157.5,y0:2395.9,uy:293.3,yLabX:784,xLabY:2625,yTitle:'RPA1 protein levels',yTitleX:695,yTitleY:2358,xTitleX:1066,xTitleY:2675,title:'HAT1 vs. RPA1',titleX:1089.8,titleY:2091.5,r:'Pearson r=0.34',pearX:1087.7,pearY:2526.5,pY:2566},rpa1Points,rpa1Fit,rpa1YTicks,rpa1YLabels);
drawScatter({name:'scatter-hat1-pola1',left:1486.4,right:2004.7,top:2085.6,bottom:2599.6,x0:1681.6,ux:170.0,y0:2337.1,uy:176.4,yLabX:1471,xLabY:2626,yTitle:'POLA1 protein levels',yTitleX:1378,yTitleY:2366,xTitleX:1729,xTitleY:2677,title:'HAT1 vs. POLA1',titleX:1740,titleY:2091.5,r:'Pearson r=0.44',pearX:1747.5,pearY:2497,pY:2540},pola1Points,pola1Fit,pola1YTicks,pola1YLabels);
drawScatter({name:'scatter-hat1-tk1',left:141,right:663.6,top:2754.7,bottom:3276.6,x0:356.1,ux:158.7,y0:3005.2,uy:124.1,yLabX:130,xLabY:3304,yTitle:'TK1 protein levels',yTitleX:43,yTitleY:3010,xTitleX:399,xTitleY:3347,title:'HAT1 vs. TK1',titleX:429.4,titleY:2774,r:'Pearson r=0.44',pearX:407.7,pearY:3201,pY:3242.5},tk1Points,tk1Fit,tk1YTicks,tk1YLabels);
drawScatter({name:'scatter-hat1-rrm1',left:793.6,right:1315.4,top:2754.7,bottom:3275.3,x0:1008.7,ux:161.9,y0:3057,uy:172.4,yLabX:784,xLabY:3299,yTitle:'RRM1 protein levels',yTitleX:699.5,yTitleY:3006,xTitleX:1053,xTitleY:3347,title:'HAT1 vs. RRM1',titleX:1079,titleY:2761,r:'Pearson r=0.36',pearX:1100.7,pearY:3192,pY:3234},rrm1Points,rrm1Fit,rrm1YTicks,rrm1YLabels);
drawScatter({name:'scatter-hat1-rrm2',left:1476.5,right:1993,top:2756.9,bottom:3279.7,x0:1688.5,ux:158.7,y0:2985.7,uy:143.8,yLabX:1462.6,xLabY:3306,yTitle:'RRM2 protein levels',yTitleX:1378,yTitleY:3019,xTitleX:1738,xTitleY:3350,title:'HAT1 vs. RRM2',titleX:1772.7,titleY:2770,r:'Pearson r=0.42',pearX:1761.8,pearY:3183,pY:3225},rrm2Points,rrm2Fit,rrm2YTicks,rrm2YLabels);
</script>
</body></html>
